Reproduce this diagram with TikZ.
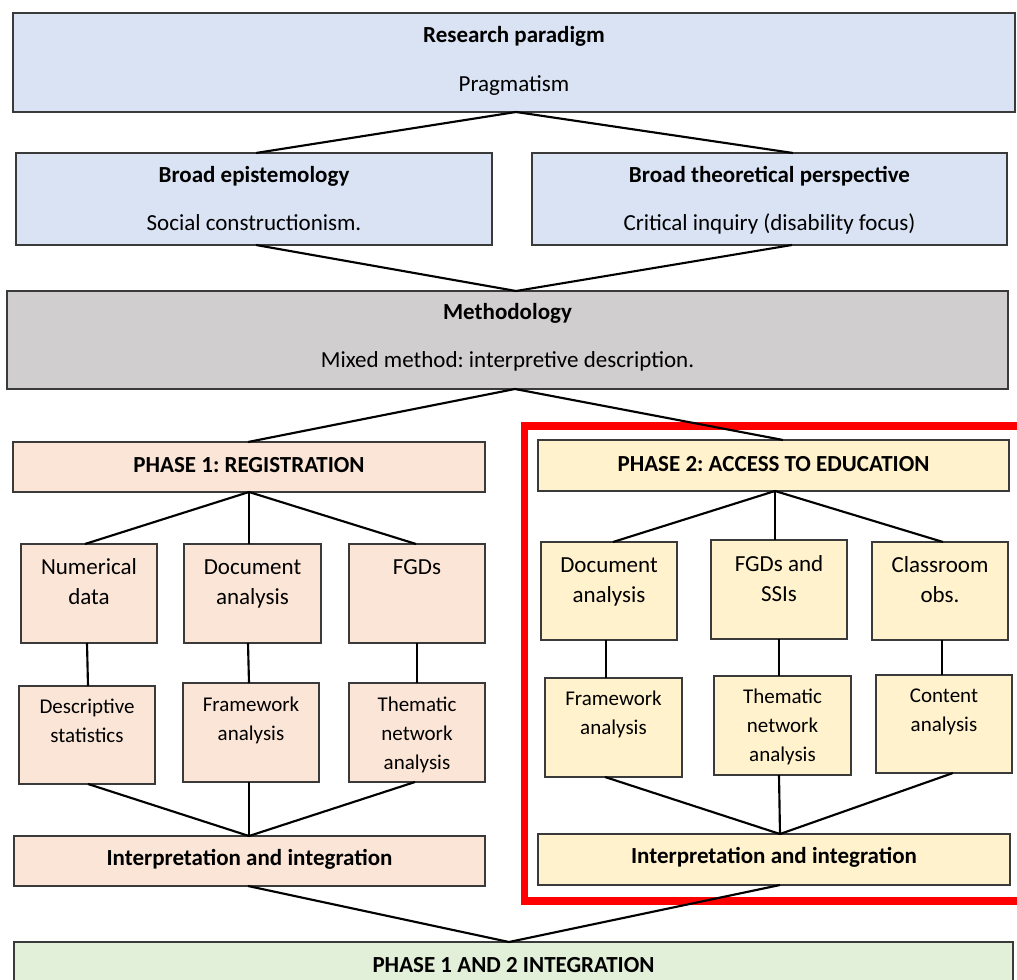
\documentclass[tikz,border=0pt]{standalone}
\usepackage{fontspec}
\setmainfont{Carlito}
\frenchspacing
\definecolor{fillblue}{HTML}{DAE3F3}
\definecolor{fillgrey}{HTML}{D0CECE}
\definecolor{fillpeach}{HTML}{FBE5D6}
\definecolor{fillyellow}{HTML}{FFF2CC}
\definecolor{fillgreen}{HTML}{E2F0D9}
\definecolor{boxline}{HTML}{3A3A3A}
\definecolor{frame}{HTML}{FF0000}
% box: name, style, x1, y1, x2, y2 (pixel grid, y downwards)
\newcommand\mkbox[6]{%
  \node[#2, minimum width={(#5-#3)*0.75pt}, minimum height={(#6-#4)*0.75pt}]
    (#1) at ({(#3+#5)/2},{(#4+#6)/2}) {};}
% text: name, style, x centre, baseline y of first line, text
\newcommand\mktxt[5]{\node[#2, anchor=base] (#1) at (#3,#4) {#5};}
% stacked lines, aligned on the first line's baseline
\newcommand\lines[1]{\begin{tabular}[t]{@{}c@{}}#1\end{tabular}}
\begin{document}
\begin{tikzpicture}[x=0.75pt,y=-0.75pt,
  box/.style={draw=boxline, line width=1pt, inner sep=0pt, outer sep=0pt},
  blue/.style={box, fill=fillblue},
  grey/.style={box, fill=fillgrey},
  peach/.style={box, fill=fillpeach},
  yellow/.style={box, fill=fillyellow},
  green/.style={box, fill=fillgreen},
  txt/.style={inner sep=0pt, text=black,
    font=\fontsize{17.25}{22.5}\selectfont},
  btxt/.style={txt, font=\fontsize{17.25}{22.5}\selectfont\bfseries},
  stxt/.style={txt, font=\fontsize{15.75}{21.75}\selectfont},
  conn/.style={draw=black, line width=1.6pt}]
\useasboundingbox (0,0) rectangle (1017,980);
\fill[white] (0,0) rectangle (1017,980);

% upper levels
\mkbox{rp}{blue}{13}{13}{1015}{112}
\mktxt{rpT}{btxt}{514}{43}{Research paradigm}
\mktxt{rpS}{txt}{514}{92}{Pragmatism}

\mkbox{be}{blue}{16}{153}{492}{245}
\mktxt{beT}{btxt}{254}{183}{Broad epistemology}
\mktxt{beS}{txt}{254}{231}{Social constructionism.}

\mkbox{bt}{blue}{532}{153}{1007}{245}
\mktxt{btT}{btxt}{769.5}{183}{Broad theoretical perspective}
\mktxt{btS}{txt}{769.5}{231}{Critical inquiry (disability focus)}

\mkbox{me}{grey}{7}{291}{1008}{389}
\mktxt{meT}{btxt}{507.5}{320}{Methodology}
\mktxt{meS}{txt}{507.5}{368}{Mixed method: interpretive description.}

% highlight frame around phase 2
\draw[frame, line width=5.5pt] (524.5,426) rectangle (1035,901);

% phase 1
\mkbox{p1}{peach}{13}{442}{485}{492}
\mktxt{p1T}{btxt}{249}{472}{PHASE 1: REGISTRATION}
\mkbox{p1a}{peach}{21}{544}{157}{643}
\mktxt{p1aT}{txt}{89}{574}{\lines{Numerical\\data}}
\mkbox{p1b}{peach}{184}{544}{321}{643}
\mktxt{p1bT}{txt}{252.5}{574}{\lines{Document\\analysis}}
\mkbox{p1c}{peach}{349}{544}{485}{643}
\mktxt{p1cT}{txt}{417}{574}{FGDs}
\mkbox{p1d}{peach}{19}{686}{155}{784}
\mktxt{p1dT}{stxt}{87}{713}{\lines{Descriptive\\statistics}}
\mkbox{p1e}{peach}{183}{683}{319}{782}
\mktxt{p1eT}{stxt}{251}{711}{\lines{Framework\\analysis}}
\mkbox{p1f}{peach}{349}{683}{485}{782}
\mktxt{p1fT}{stxt}{417}{711}{\lines{Thematic\\network\\analysis}}
\mkbox{p1i}{peach}{14}{836}{485}{886}
\mktxt{p1iT}{btxt}{249.5}{865}{Interpretation and integration}

% phase 2
\mkbox{p2}{yellow}{538}{440}{1009}{491}
\mktxt{p2T}{btxt}{773.5}{471}{PHASE 2: ACCESS TO EDUCATION}
\mkbox{p2a}{yellow}{541}{542}{677}{640}
\mktxt{p2aT}{txt}{609}{572}{\lines{Document\\analysis}}
\mkbox{p2b}{yellow}{711}{540}{847}{639}
\mktxt{p2bT}{txt}{779}{571}{\lines{FGDs and\\SSIs}}
\mkbox{p2c}{yellow}{872}{542}{1008}{640}
\mktxt{p2cT}{txt}{940}{572}{\lines{Classroom\\obs.}}
\mkbox{p2d}{yellow}{545}{678}{682}{777}
\mktxt{p2dT}{stxt}{613.5}{705}{\lines{Framework\\analysis}}
\mkbox{p2e}{yellow}{714}{676}{851}{775}
\mktxt{p2eT}{stxt}{782.5}{703}{\lines{Thematic\\network\\analysis}}
\mkbox{p2f}{yellow}{876}{675}{1012}{773}
\mktxt{p2fT}{stxt}{944}{702}{\lines{Content\\analysis}}
\mkbox{p2i}{yellow}{538}{834}{1010}{885}
\mktxt{p2iT}{btxt}{774}{863}{Interpretation and integration}

% joint integration
\mkbox{fin}{green}{14}{942}{1013}{1002}
\mktxt{finT}{btxt}{513.5}{972}{PHASE 1 AND 2 INTEGRATION}

% connectors
\draw[conn] (rp.south -| 516,0) -- (be.north -| 256,0);
\draw[conn] (rp.south -| 516,0) -- (bt.north -| 793,0);
\draw[conn] (be.south -| 256,0) -- (me.north -| 516,0);
\draw[conn] (bt.south -| 792,0) -- (me.north -| 516,0);
\draw[conn] (me.south -| 515,0) -- (p1.north -| 248,0);
\draw[conn] (me.south -| 515,0) -- (p2.north -| 783,0);

\draw[conn] (p1.south -| 249,0) -- (p1a.north -| 85,0);
\draw[conn] (p1.south -| 249,0) -- (p1b.north -| 249,0);
\draw[conn] (p1.south -| 249,0) -- (p1c.north -| 416,0);
\draw[conn] (p1a.south -| 87,0) -- (p1d.north -| 88,0);
\draw[conn] (p1b.south -| 248,0) -- (p1e.north -| 249,0);
\draw[conn] (p1c.south -| 417,0) -- (p1f.north -| 417,0);
\draw[conn] (p1d.south -| 88,0) -- (p1i.north -| 249,0);
\draw[conn] (p1e.south -| 249,0) -- (p1i.north -| 249,0);
\draw[conn] (p1f.south -| 415,0) -- (p1i.north -| 249,0);

\draw[conn] (p2.south -| 775,0) -- (p2a.north -| 613,0);
\draw[conn] (p2.south -| 775,0) -- (p2b.north -| 775,0);
\draw[conn] (p2.south -| 775,0) -- (p2c.north -| 943,0);
\draw[conn] (p2a.south -| 606,0) -- (p2d.north -| 606,0);
\draw[conn] (p2b.south -| 779,0) -- (p2e.north -| 779,0);
\draw[conn] (p2c.south -| 942,0) -- (p2f.north -| 942,0);
\draw[conn] (p2d.south -| 605,0) -- (p2i.north -| 780,0);
\draw[conn] (p2e.south -| 779,0) -- (p2i.north -| 780,0);
\draw[conn] (p2f.south -| 953,0) -- (p2i.north -| 780,0);

\draw[conn] (p1i.south -| 248,0) -- (fin.north -| 509,0);
\draw[conn] (p2i.south -| 780,0) -- (fin.north -| 509,0);
\end{tikzpicture}
\end{document}
